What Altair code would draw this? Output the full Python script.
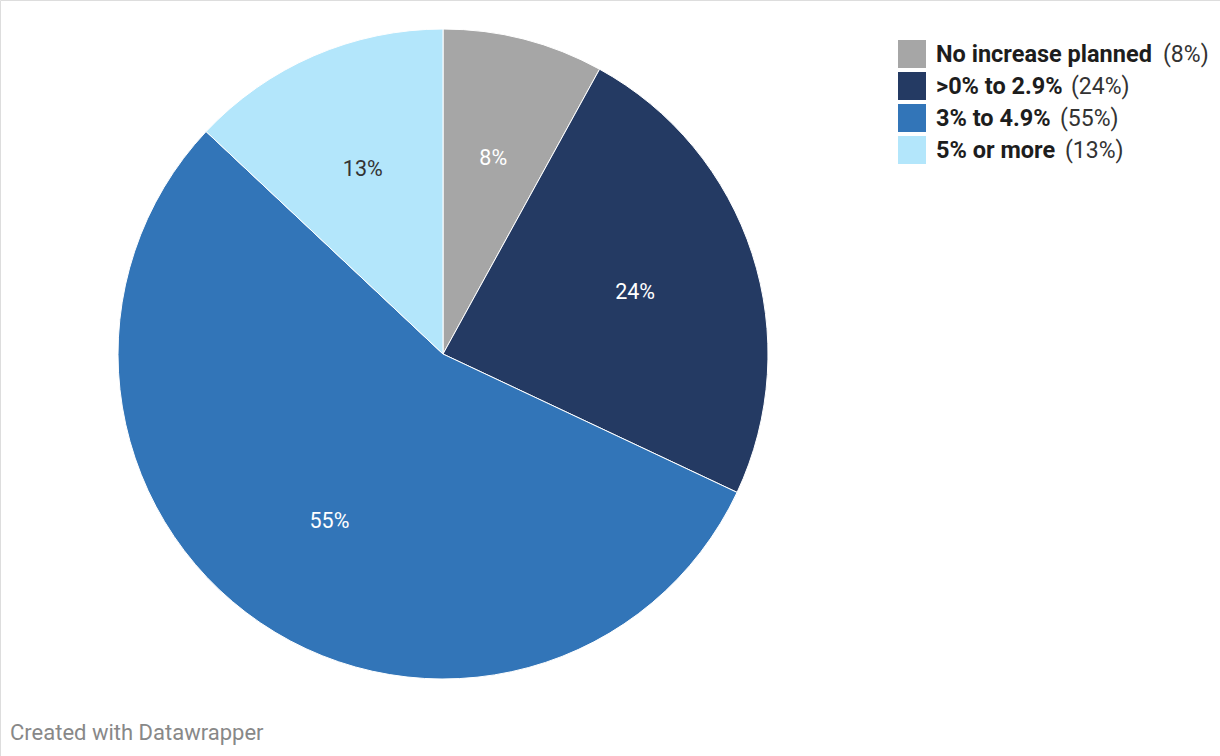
import altair as alt
import pandas as pd

categories = ["No increase planned", ">0% to 2.9%", "3% to 4.9%", "5% or more"]
values = [8, 24, 55, 13]
colors = ["#a6a6a6", "#243a63", "#3275b8", "#b3e6fb"]
label_colors = ["#ffffff", "#ffffff", "#ffffff", "#333333"]

# legend layout (pixel x where the "(nn%)" part starts, per row)
legend_value_x = [1163, 1071, 1060, 1065]

df = pd.DataFrame({
    "category": categories,
    "value": values,
    "order": list(range(len(categories))),
    "pct": [f"{v}%" for v in values],
    "paren": [f"({v}%)" for v in values],
    "vx": legend_value_x,
    "lblcolor": label_colors,
})

cx, cy, R = 443, 354, 325

color_scale = alt.Scale(domain=categories, range=colors)

base = alt.Chart(df).encode(
    theta=alt.Theta("value:Q", stack=True),
    order=alt.Order("order:Q", sort="ascending"),
)

arcs = base.mark_arc(outerRadius=R, stroke="white", strokeWidth=1).encode(
    color=alt.Color("category:N", scale=color_scale, legend=None),
    x=alt.value(cx), y=alt.value(cy),
)

labels = base.mark_text(radius=202, fontSize=21.5, font="Roboto", dy=1).encode(
    text="pct:N",
    color=alt.Color("lblcolor:N", scale=None),
    x=alt.value(cx), y=alt.value(cy),
)

yrow = alt.Y("order:Q", scale=alt.Scale(domain=[0, 3], range=[54, 150], nice=False, zero=False), axis=None)

leg_sq = alt.Chart(df).mark_square(size=784, opacity=1).encode(
    x=alt.value(912),
    y=yrow,
    color=alt.Color("category:N", scale=color_scale, legend=None),
)

leg_lbl = alt.Chart(df).mark_text(align="left", baseline="middle", fontSize=23.5, fontWeight="bold",
                                  font="Roboto", color="#1d1d1d", dy=1).encode(
    x=alt.value(936), y=yrow, text="category:N",
)

leg_val = alt.Chart(df).mark_text(align="left", baseline="middle", fontSize=23,
                                  font="Roboto", color="#333333", dy=1).encode(
    x=alt.X("vx:Q", scale=None), y=yrow, text="paren:N",
)

footer = alt.Chart(pd.DataFrame({"t": ["Created with Datawrapper"]})).mark_text(
    align="left", baseline="middle", fontSize=22, font="Roboto", color="#888888"
).encode(x=alt.value(10), y=alt.value(733), text="t:N")

chart = alt.layer(arcs, labels, leg_sq, leg_lbl, leg_val, footer).properties(
    width=1220, height=756, padding=0, autosize=alt.AutoSizeParams(type="none")
).configure_view(stroke=None, strokeWidth=0).configure(background="white")

chart.save("out.html", embed_options={"renderer": "svg", "actions": False})
